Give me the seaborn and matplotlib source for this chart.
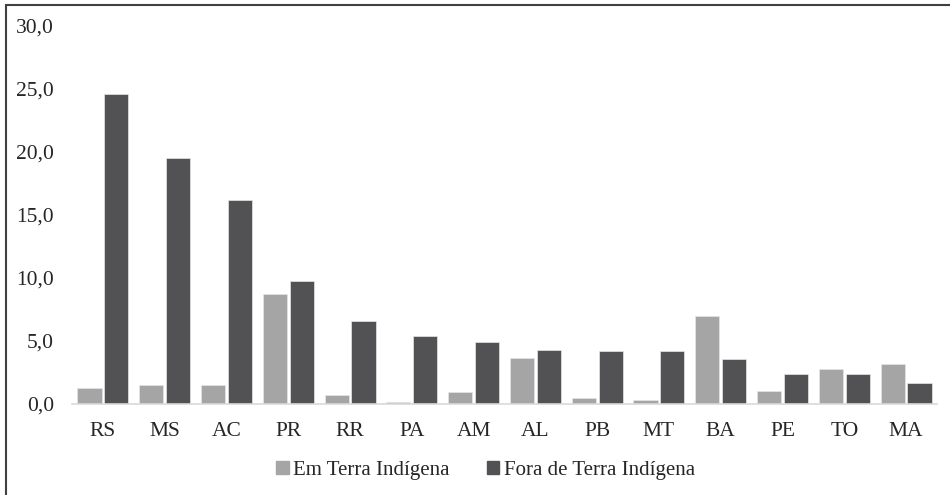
import pandas as pd
import matplotlib
matplotlib.use('Agg')
import matplotlib.pyplot as plt
import matplotlib.patches as mpatches
from matplotlib.ticker import FuncFormatter, MultipleLocator
import seaborn as sns

# Values
estados = ['RS', 'MS', 'AC', 'PR', 'RR', 'PA', 'AM', 'AL', 'PB', 'MT', 'BA', 'PE', 'TO', 'MA']
em_terra = [1.3, 1.5, 1.5, 8.7, 0.75, 0.15, 0.95, 3.65, 0.5, 0.3, 7.0, 1.05, 2.8, 3.15]
fora_terra = [24.6, 19.55, 16.2, 9.75, 6.55, 5.4, 4.95, 4.25, 4.2, 4.2, 3.55, 2.35, 2.35, 1.65]
series = ['Em Terra Indígena', 'Fora de Terra Indígena']
cores = ['#a5a5a6', '#525254']

df = pd.DataFrame({
    'estado': estados * 2,
    'valor': em_terra + fora_terra,
    'grupo': [series[0]] * len(estados) + [series[1]] * len(estados),
})

sns.set_style('white')
plt.rcParams['font.family'] = ['Liberation Serif', 'DejaVu Serif']

fig = plt.figure(figsize=(9.5, 4.95), dpi=100)
ax = fig.add_axes([0.0758, 0.1838, 0.9105, 0.7637])

sns.barplot(data=df, x='estado', y='valor', hue='grupo', order=estados,
            hue_order=series, palette=cores, width=0.87, gap=0.1,
            edgecolor='#e6e6e6', linewidth=0.5, ax=ax, legend=False)

ax.set_ylim(0, 30)
ax.set_xlim(-0.5, len(estados) - 0.5)
ax.yaxis.set_major_locator(MultipleLocator(5))
ax.yaxis.set_major_formatter(FuncFormatter(lambda v, p: f'{v:.1f}'.replace('.', ',')))
ax.set_xlabel('')
ax.set_ylabel('')
ax.tick_params(axis='both', length=0, labelsize=15.5, colors='#262626')
ax.tick_params(axis='x', pad=13)
ax.tick_params(axis='y', pad=13)
for s in ['top', 'right', 'left']:
    ax.spines[s].set_visible(False)
ax.spines['bottom'].set_color('#d9d9d9')
ax.spines['bottom'].set_linewidth(1.2)

handles = [mpatches.Patch(color=c, label=l) for c, l in zip(cores, series)]
fig.legend(handles=handles, loc='center', bbox_to_anchor=(0.511, 0.05), ncol=2,
           frameon=False, handlelength=0.6, handleheight=0.6, handletextpad=0.2,
           columnspacing=1.8, prop={'size': 15})

# outer frame (left and top visible as in the reference)
fig.add_artist(mpatches.Rectangle((6 / 950, -0.1), 1.2, 1 - 5 / 495 + 0.1,
                                  transform=fig.transFigure, fill=False,
                                  edgecolor='#404040', linewidth=1.5))

fig.savefig('out.png', dpi=100)
